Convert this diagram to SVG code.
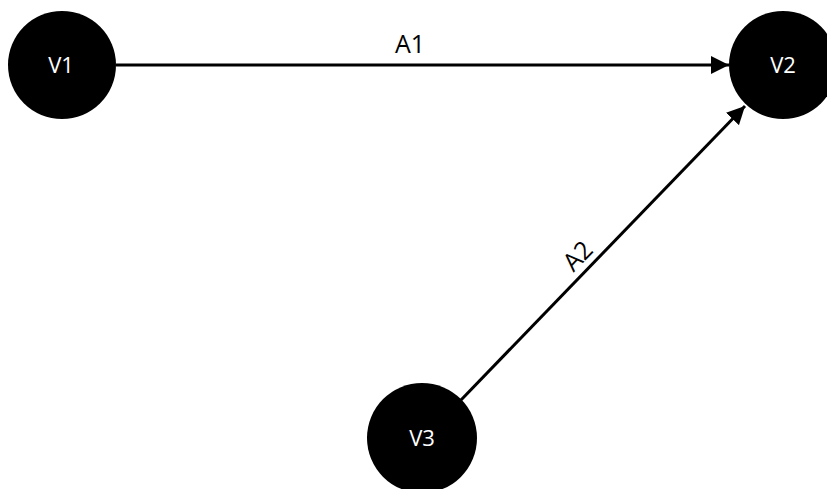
<svg xmlns="http://www.w3.org/2000/svg" width="827" height="489" viewBox="0 0 827 489">
<style>
.node{fill:#000}
.nl{fill:#fff;font-family:"Open Sans","Noto Sans",sans-serif;font-size:22px;text-anchor:middle;dominant-baseline:central}
.edge{stroke:#000;stroke-width:3;fill:none}
.el{fill:#000;font-family:"Open Sans","Noto Sans",sans-serif;font-size:25px;text-anchor:middle}
</style>
<defs>
<marker id="arr" markerWidth="6" markerHeight="6" refX="6" refY="3" orient="auto" markerUnits="strokeWidth">
<path d="M0,0 L6,3 L0,6 z" fill="#000"/>
</marker>
</defs>
<g id="connectors">
<line class="edge" x1="116" y1="65" x2="729" y2="65" marker-end="url(#arr)"/>
<line class="edge" x1="461" y1="400" x2="745" y2="106" marker-end="url(#arr)"/>
<text class="el" x="410" y="53">A1</text>
<text class="el" transform="translate(584,262) rotate(-46)" x="0" y="0">A2</text>
</g>
<g id="V1"><circle class="node" cx="62" cy="65" r="54"/><text class="nl" x="61" y="64">V1</text></g>
<g id="V2"><circle class="node" cx="783" cy="65" r="54"/><text class="nl" x="783" y="64">V2</text></g>
<g id="V3"><circle class="node" cx="422" cy="438" r="55"/><text class="nl" x="422" y="437">V3</text></g>
</svg>
